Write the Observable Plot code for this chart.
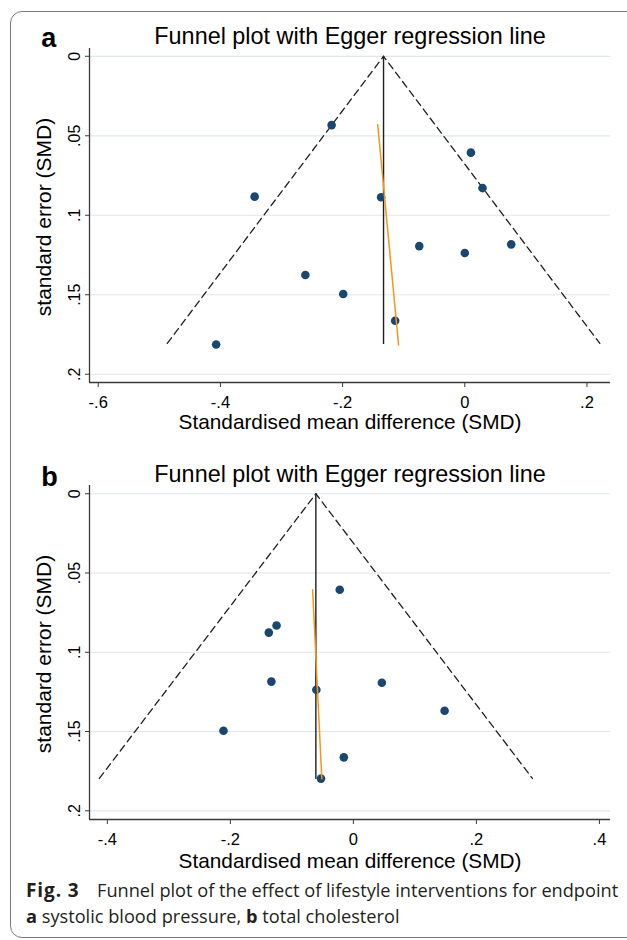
<!DOCTYPE html>
<html>
<head>
<meta charset="utf-8">
<script src="https://cdn.jsdelivr.net/npm/d3@7"></script>
<script src="https://cdn.jsdelivr.net/npm/@observablehq/plot@0.6"></script>
<style>
  html, body { margin: 0; padding: 0; background: #fff; }
  #fig { position: relative; width: 627px; height: 940px; overflow: hidden; font-family: "Liberation Sans", Arial, sans-serif; }
  #border { position: absolute; left: 10px; top: 11px; width: 650px; height: 927px; border: 1.3px solid #7a7a7a; border-radius: 12px; box-sizing: border-box; }
  .panel { position: absolute; left: 0; }
  #caption { position: absolute; left: 26px; top: 876.5px; font-family: "Open Sans", "Noto Sans", sans-serif; font-size: 18.2px; line-height: 26px; color: #231f20; white-space: nowrap; }
  #caption b { font-weight: 700; }
  #caption .fig { display: inline-block; width: 71px; font-size: 19px; letter-spacing: 0.9px; }
</style>
</head>
<body>
<div id="fig">
  <div id="border"></div>
  <div id="panelA" class="panel" style="top:0px"></div>
  <div id="panelB" class="panel" style="top:440px"></div>
  <div id="caption"><b class="fig">Fig. 3</b>Funnel plot of the effect of lifestyle interventions for endpoint<br><b>a</b> systolic blood pressure, <b>b</b> total cholesterol</div>
</div>
<script>
// ---------- Data ----------
const chartTitle = "Funnel plot with Egger regression line";
const xTitle = "Standardised mean difference (SMD)";
const yTitle = "standard error (SMD)";
const yTicks = [0, 0.05, 0.1, 0.15, 0.2];

// Panel a: systolic blood pressure
const labelA = "a";
const smdA = [-0.218, 0.010, 0.029, -0.344, -0.137, -0.0745, 0.000, 0.076, -0.261, -0.199, -0.114, -0.407];
const seA  = [0.0433, 0.0606, 0.0829, 0.0883, 0.0887, 0.1194, 0.1237, 0.1183, 0.1376, 0.1495, 0.1664, 0.1813];
const pooledA = -0.133;
const seMaxA = 0.1806;
const eggerSeA = [0.0431, 0.1816];
const eggerSmdA = [-0.1425, -0.1084];
const xTicksA = [-0.6, -0.4, -0.2, 0, 0.2];
const xDomainA = [-0.6143, 0.2385];
const yDomainA = [-0.0049, 0.2052];

// Panel b: total cholesterol
const labelB = "b";
const smdB = [-0.0222, -0.1249, -0.1375, -0.1333, -0.0602, 0.0463, 0.1483, -0.2112, -0.0155, -0.0527];
const seB  = [0.0606, 0.0831, 0.0876, 0.1185, 0.1237, 0.1192, 0.1369, 0.1495, 0.1663, 0.1797];
const pooledB = -0.061;
const seMaxB = 0.1796;
const eggerSeB = [0.0606, 0.1798];
const eggerSmdB = [-0.0663, -0.0513];
const xTicksB = [-0.4, -0.2, 0, 0.2, 0.4];
const xDomainB = [-0.429, 0.418];
const yDomainB = [-0.0052, 0.2055];

// ---------- Drawing ----------
const fmt = d => d === 0 ? "0" : String(+d.toFixed(3)).replace("0.", ".");

function panel(cfg) {
  const pts = cfg.smd.map((x, i) => ({smd: x, se: cfg.se[i]}));
  const z = 1.96;
  const funnel = [
    {smd: cfg.pooled - z * cfg.seMax, se: cfg.seMax},
    {smd: cfg.pooled, se: 0},
    {smd: cfg.pooled + z * cfg.seMax, se: cfg.seMax}
  ];
  const center = [{smd: cfg.pooled, se: 0}, {smd: cfg.pooled, se: cfg.seMax}];
  const egger = cfg.eggerSe.map((s, i) => ({smd: cfg.eggerSmd[i], se: s}));
  const plotH = 334;
  return Plot.plot({
    width: 627,
    height: 440,
    marginLeft: 89,
    marginRight: 17,
    marginTop: cfg.mt,
    marginBottom: 440 - cfg.mt - plotH,
    x: {domain: cfg.xDomain},
    y: {domain: cfg.yDomain, reverse: true},
    style: {fontFamily: "'Liberation Sans', Arial, sans-serif", color: "#000", background: "transparent", overflow: "visible"},
    marks: [
      Plot.gridY(yTicks, {stroke: "#dce8ec", strokeOpacity: 1, strokeWidth: 1.2}),
      Plot.line(funnel, {x: "smd", y: "se", stroke: "#1e1e1e", strokeWidth: 1.3, strokeDasharray: "7,4.5"}),
      Plot.line(center, {x: "smd", y: "se", stroke: "#1e1e1e", strokeWidth: 1.4}),
      Plot.dot(pts, {x: "smd", y: "se", r: 4.3, fill: "#1a476f", stroke: "none"}),
      Plot.line(egger, {x: "smd", y: "se", stroke: "#f2961d", strokeWidth: 1.5}),
      Plot.ruleX([cfg.xDomain[0]], {stroke: "#3a3a3a", strokeWidth: 1.3}),
      Plot.ruleY([cfg.yDomain[1]], {stroke: "#3a3a3a", strokeWidth: 1.3}),
      Plot.axisX(cfg.xTicks, {tickSize: 5, tickPadding: 9, tickFormat: fmt, fontSize: 16.5, label: null, stroke: "#3a3a3a"}),
      Plot.axisY(yTicks, {tickSize: 4, tickPadding: 6, tickRotate: -90, tickFormat: fmt, fontSize: 16, label: null, stroke: "#3a3a3a"}),
      Plot.text([chartTitle], {text: d => d, frameAnchor: "top", lineAnchor: "bottom", dy: cfg.titleDy, fontSize: 23.4, fill: "#000"}),
      Plot.text([cfg.label], {text: d => d, frameAnchor: "top-left", textAnchor: "start", lineAnchor: "bottom", dx: -48.3, dy: cfg.labelDy, fontSize: 27, fontWeight: "bold", fill: "#000"}),
      Plot.text([xTitle], {text: d => d, frameAnchor: "bottom", lineAnchor: "bottom", dy: cfg.xTitleDy, fontSize: 20.8, fill: "#000"}),
      Plot.text([yTitle], {text: d => d, frameAnchor: "left", textAnchor: "middle", lineAnchor: "bottom", rotate: -90, dx: -39, dy: 1.5, fontSize: 21, fill: "#000"})
    ]
  });
}

document.getElementById("panelA").append(panel({
  label: labelA, smd: smdA, se: seA, pooled: pooledA, seMax: seMaxA,
  eggerSe: eggerSeA, eggerSmd: eggerSmdA, xTicks: xTicksA, xDomain: xDomainA, yDomain: yDomainA,
  mt: 48, titleDy: -4.7, labelDy: -1.3, xTitleDy: 46.6
}));
document.getElementById("panelB").append(panel({
  label: labelB, smd: smdB, se: seB, pooled: pooledB, seMax: seMaxB,
  eggerSe: eggerSeB, eggerSmd: eggerSmdB, xTicks: xTicksB, xDomain: xDomainB, yDomain: yDomainB,
  mt: 45, titleDy: -3.3, labelDy: 0, xTitleDy: 48
}));
</script>
</body>
</html>
